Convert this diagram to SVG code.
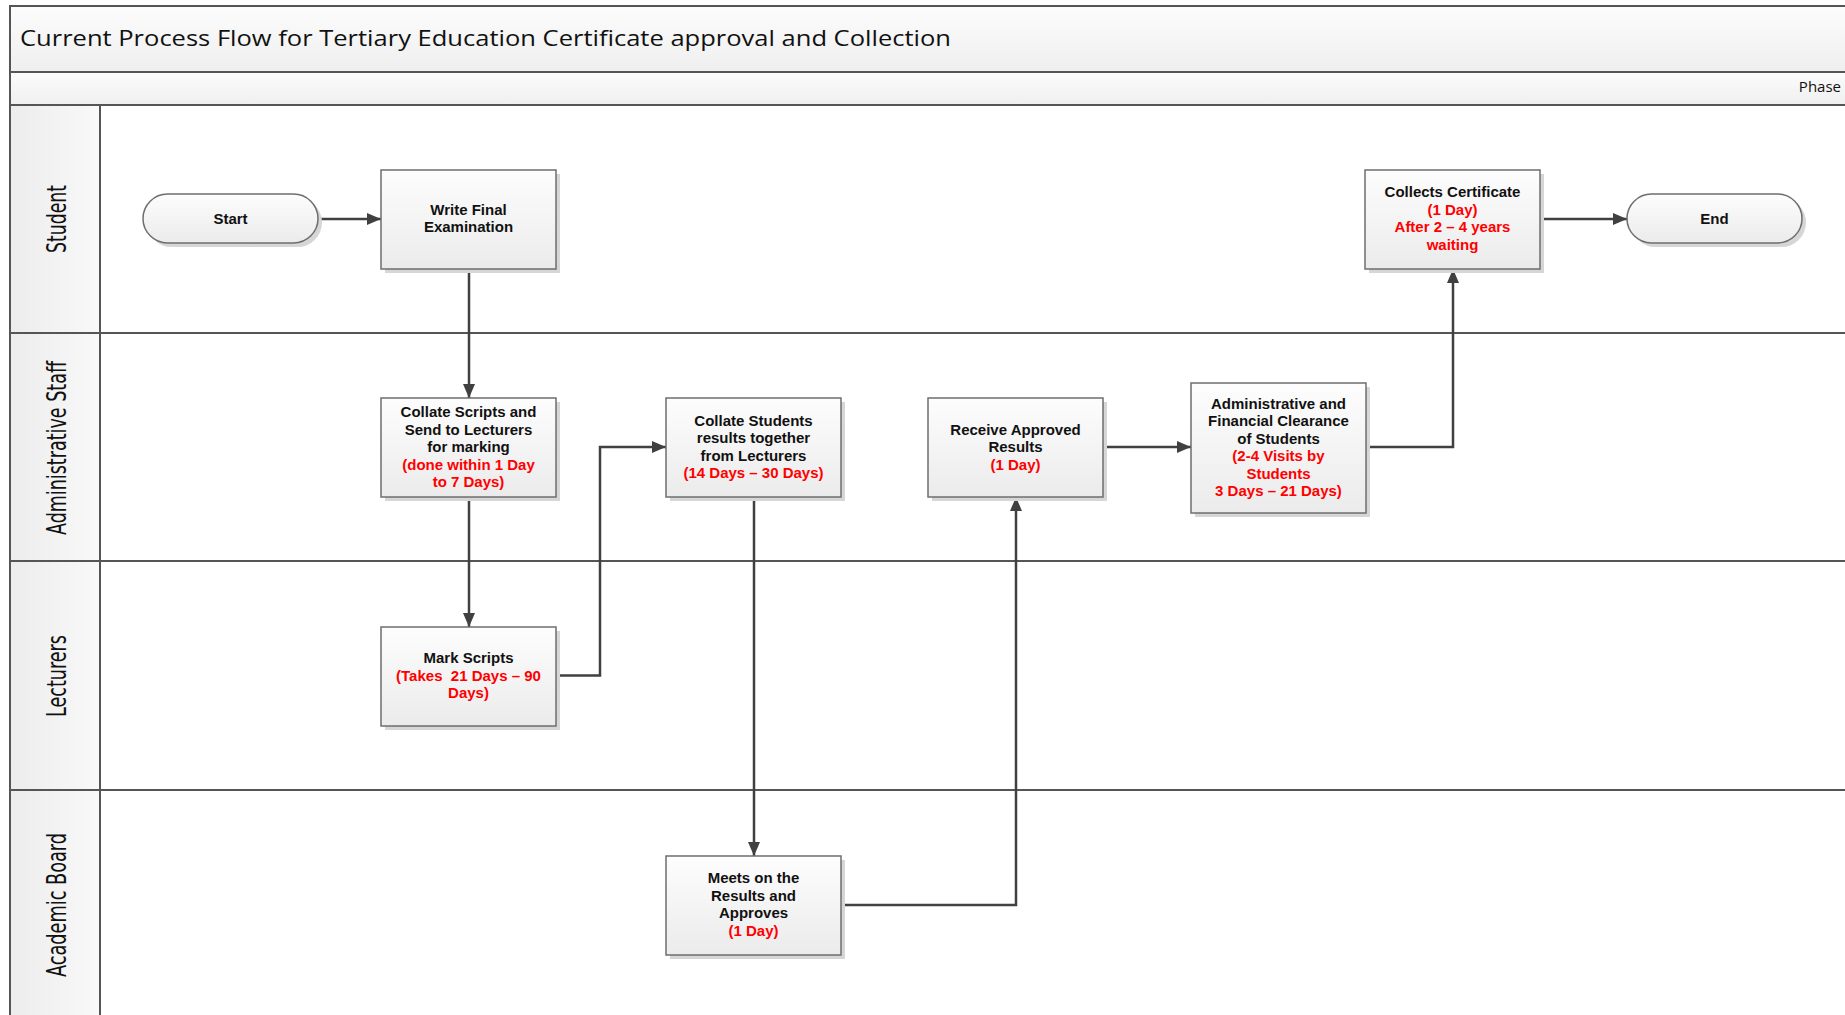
<svg xmlns="http://www.w3.org/2000/svg" width="1845" height="1015" viewBox="0 0 1845 1015">
<defs>
<linearGradient id="gNode" x1="0" y1="0" x2="0" y2="1">
<stop offset="0" stop-color="#fdfdfd"/>
<stop offset="1" stop-color="#ebebeb"/>
</linearGradient>
<linearGradient id="gBand" x1="0" y1="0" x2="0" y2="1">
<stop offset="0" stop-color="#fcfcfc"/>
<stop offset="1" stop-color="#efefef"/>
</linearGradient>
<linearGradient id="gLane" x1="0" y1="0" x2="1" y2="0">
<stop offset="0" stop-color="#ececec"/>
<stop offset="1" stop-color="#f9f9f9"/>
</linearGradient>
<marker id="arr" viewBox="0 0 14 12" refX="14" refY="6" markerWidth="14" markerHeight="12" markerUnits="userSpaceOnUse" orient="auto">
<path d="M0,0 L14,6 L0,12 Z" fill="#404040"/>
</marker>
<style>
.band{fill:url(#gBand);stroke:#555;stroke-width:2}
.lanehd{fill:url(#gLane);stroke:#555;stroke-width:2}
.lane{fill:#fff;stroke:#555;stroke-width:2}
.box{fill:url(#gNode);stroke:#6e6e6e;stroke-width:1.5}
.shadow{fill:#d6d6d6}
.t{font-family:"Liberation Sans",Arial,sans-serif;font-weight:700;font-size:15px;fill:#111;text-anchor:middle}
.r{fill:#ff0000}
.lbl{font-family:"Liberation Sans Narrow","DejaVu Sans Condensed","Liberation Sans",sans-serif;font-size:27px;fill:#111;text-anchor:middle}
.title{font-family:"Open Sans","Liberation Sans",sans-serif;font-size:21px;fill:#111}
.phase{font-family:"Open Sans","Liberation Sans",sans-serif;font-size:15px;fill:#111;text-anchor:end}
.c{fill:none;stroke:#404040;stroke-width:2.5;marker-end:url(#arr)}
</style>
</defs>
<rect width="1845" height="1015" fill="#ffffff"/>

<g id="pool">
<rect class="band" x="10" y="6" width="1850" height="66"/>
<rect class="band" x="10" y="72" width="1850" height="33"/>
<text class="title" x="20" y="46" textLength="931" lengthAdjust="spacingAndGlyphs">Current Process Flow for Tertiary Education Certificate approval and Collection</text>
<text class="phase" x="1841" y="92">Phase</text>
</g>

<g id="lane-student">
<rect class="lane" x="100" y="105" width="1760" height="228"/>
<rect class="lanehd" x="10" y="105" width="90" height="228"/>
<text class="lbl" transform="translate(66,219) rotate(-90)" textLength="68" lengthAdjust="spacingAndGlyphs">Student</text>
</g>
<g id="lane-admin">
<rect class="lane" x="100" y="333" width="1760" height="228"/>
<rect class="lanehd" x="10" y="333" width="90" height="228"/>
<text class="lbl" transform="translate(66,448) rotate(-90)" textLength="174" lengthAdjust="spacingAndGlyphs">Administrative Staff</text>
</g>
<g id="lane-lecturers">
<rect class="lane" x="100" y="561" width="1760" height="229"/>
<rect class="lanehd" x="10" y="561" width="90" height="229"/>
<text class="lbl" transform="translate(66,676) rotate(-90)" textLength="82" lengthAdjust="spacingAndGlyphs">Lecturers</text>
</g>
<g id="lane-board">
<rect class="lane" x="100" y="790" width="1760" height="240"/>
<rect class="lanehd" x="10" y="790" width="90" height="240"/>
<text class="lbl" transform="translate(66,905) rotate(-90)" textLength="144" lengthAdjust="spacingAndGlyphs">Academic Board</text>
</g>

<g id="connectors">
<path class="c" d="M318,219 H381"/>
<path class="c" d="M469,269 V398"/>
<path class="c" d="M469,497 V627"/>
<path class="c" d="M557,675.5 H600 V447 H666"/>
<path class="c" d="M754,497 V856"/>
<path class="c" d="M841,905 H1016 V497"/>
<path class="c" d="M1104,447 H1191"/>
<path class="c" d="M1366,447 H1453 V269"/>
<path class="c" d="M1540,219 H1627"/>
</g>

<g id="start">
<rect class="shadow" x="147" y="198" width="175" height="49" rx="24.5"/>
<rect class="box" x="143" y="194" width="175" height="49" rx="24.5"/>
<text class="t" x="230.5" y="224">Start</text>
</g>

<g id="write-exam">
<rect class="shadow" x="385" y="174" width="175" height="99"/>
<rect class="box" x="381" y="170" width="175" height="99"/>
<text class="t" x="468.5" y="214.5">Write Final<tspan x="468.5" dy="17.5">Examination</tspan></text>
</g>

<g id="collate-scripts">
<rect class="shadow" x="385" y="402" width="175" height="99"/>
<rect class="box" x="381" y="398" width="175" height="99"/>
<text class="t" x="468.5" y="417">Collate Scripts and<tspan x="468.5" dy="17.5">Send to Lecturers</tspan><tspan x="468.5" dy="17.5">for marking</tspan><tspan class="r" x="468.5" dy="17.5">(done within 1 Day</tspan><tspan class="r" x="468.5" dy="17.5">to 7 Days)</tspan></text>
</g>

<g id="mark-scripts">
<rect class="shadow" x="385" y="631" width="175" height="99"/>
<rect class="box" x="381" y="627" width="175" height="99"/>
<text class="t" x="468.5" y="663">Mark Scripts<tspan class="r" x="468.5" dy="17.5" xml:space="preserve">(Takes  21 Days – 90</tspan><tspan class="r" x="468.5" dy="17.5">Days)</tspan></text>
</g>

<g id="collate-results">
<rect class="shadow" x="670" y="402" width="175" height="99"/>
<rect class="box" x="666" y="398" width="175" height="99"/>
<text class="t" x="753.5" y="425.5">Collate Students<tspan x="753.5" dy="17.5">results together</tspan><tspan x="753.5" dy="17.5">from Lecturers</tspan><tspan class="r" x="753.5" dy="17.5">(14 Days – 30 Days)</tspan></text>
</g>

<g id="board-approves">
<rect class="shadow" x="670" y="860" width="175" height="99"/>
<rect class="box" x="666" y="856" width="175" height="99"/>
<text class="t" x="753.5" y="883">Meets on the<tspan x="753.5" dy="17.5">Results and</tspan><tspan x="753.5" dy="17.5">Approves</tspan><tspan class="r" x="753.5" dy="17.5">(1 Day)</tspan></text>
</g>

<g id="receive-results">
<rect class="shadow" x="932" y="402" width="175" height="99"/>
<rect class="box" x="928" y="398" width="175" height="99"/>
<text class="t" x="1015.5" y="434.5">Receive Approved<tspan x="1015.5" dy="17.5">Results</tspan><tspan class="r" x="1015.5" dy="17.5">(1 Day)</tspan></text>
</g>

<g id="clearance">
<rect class="shadow" x="1195" y="387" width="175" height="130"/>
<rect class="box" x="1191" y="383" width="175" height="130"/>
<text class="t" x="1278.5" y="408.5">Administrative and<tspan x="1278.5" dy="17.5">Financial Clearance</tspan><tspan x="1278.5" dy="17.5">of Students</tspan><tspan class="r" x="1278.5" dy="17.5">(2-4 Visits by</tspan><tspan class="r" x="1278.5" dy="17.5">Students</tspan><tspan class="r" x="1278.5" dy="17.5">3 Days – 21 Days)</tspan></text>
</g>

<g id="collect-cert">
<rect class="shadow" x="1369" y="174" width="175" height="99"/>
<rect class="box" x="1365" y="170" width="175" height="99"/>
<text class="t" x="1452.5" y="197">Collects Certificate<tspan class="r" x="1452.5" dy="17.5">(1 Day)</tspan><tspan class="r" x="1452.5" dy="17.5">After 2 – 4 years</tspan><tspan class="r" x="1452.5" dy="17.5">waiting</tspan></text>
</g>

<g id="end">
<rect class="shadow" x="1631" y="198" width="175" height="49" rx="24.5"/>
<rect class="box" x="1627" y="194" width="175" height="49" rx="24.5"/>
<text class="t" x="1714.5" y="224">End</text>
</g>
</svg>
